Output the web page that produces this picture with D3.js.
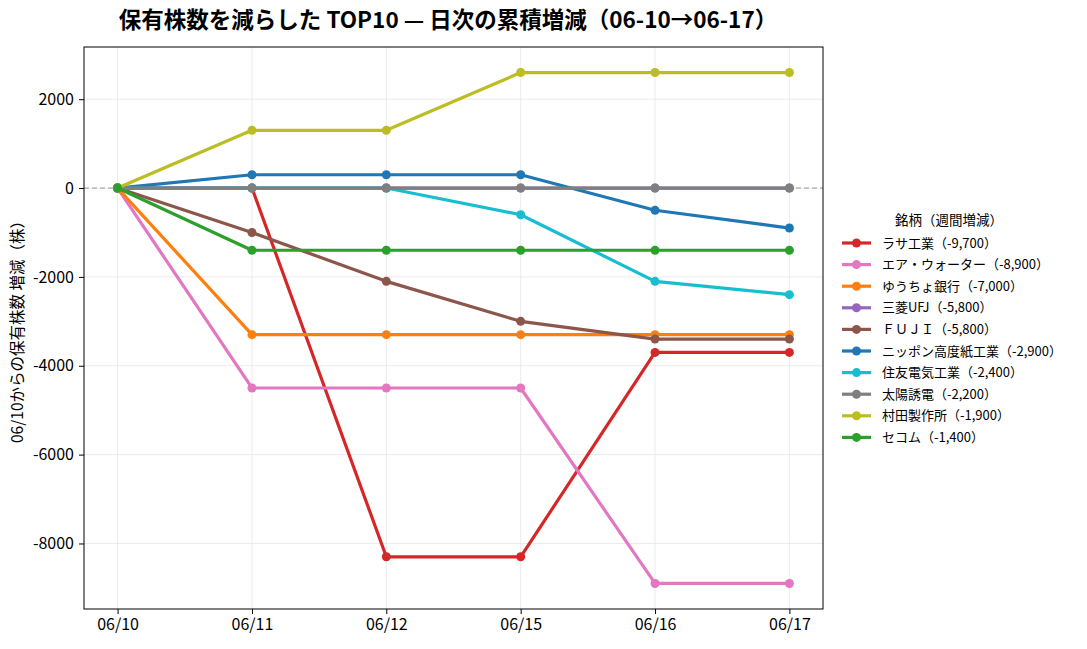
<!DOCTYPE html>
<html>
<head>
<meta charset="utf-8">
<script src="https://cdn.jsdelivr.net/npm/d3@7"></script>
<style>
body { margin: 0; background: #fff; }
svg { font-family: "Noto Sans CJK JP", "Noto Sans", sans-serif; }
</style>
</head>
<body>
<div id="chart"></div>
<script>
var width = 1087;
var height = 649;

// dates on the x axis
var dates = ["06/10", "06/11", "06/12", "06/15", "06/16", "06/17"];

// stock names and weekly change shown in legend
var names = ["ラサ工業", "エア・ウォーター", "ゆうちょ銀行", "三菱UFJ", "ＦＵＪＩ",
             "ニッポン高度紙工業", "住友電気工業", "太陽誘電", "村田製作所", "セコム"];
var weekly = [-9700, -8900, -7000, -5800, -5800, -2900, -2400, -2200, -1900, -1400];
var colors = ["#d62728", "#e377c2", "#ff7f0e", "#9467bd", "#8c564b",
              "#1f77b4", "#17becf", "#7f7f7f", "#bcbd22", "#2ca02c"];

// cumulative change since 06/10
var rasa    = [0, 0, -8300, -8300, -3700, -3700];
var air     = [0, -4500, -4500, -4500, -8900, -8900];
var yucho   = [0, -3300, -3300, -3300, -3300, -3300];
var mufg    = [0, 0, 0, 0, 0, 0];
var fuji    = [0, -1000, -2100, -3000, -3400, -3400];
var nippon  = [0, 300, 300, 300, -500, -900];
var sumi    = [0, 0, 0, -600, -2100, -2400];
var taiyo   = [0, 0, 0, 0, 0, 0];
var murata  = [0, 1300, 1300, 2600, 2600, 2600];
var secom   = [0, -1400, -1400, -1400, -1400, -1400];
var seriesValues = [rasa, air, yucho, mufg, fuji, nippon, sumi, taiyo, murata, secom];

var yTicks = [-8000, -6000, -4000, -2000, 0, 2000];

var margin = {top: 47, right: 264, bottom: 40, left: 84};
var chart_width = width - margin.left - margin.right;
var chart_height = 609 - margin.top;

// plain hyphen minus, thousands separator
function fmt(v) {
    return (v < 0 ? "-" : "") + d3.format(",")(Math.abs(v));
}

var svg = d3.select("#chart").append("svg")
    .attr("width", width)
    .attr("height", height);

svg.append("text")
    .attr("x", 448)
    .attr("y", 28)
    .attr("text-anchor", "middle")
    .style("font-size", "22.5px")
    .style("font-weight", "bold")
    .text("保有株数を減らした TOP10 — 日次の累積増減（06-10→06-17）");

var g = svg.append("g")
    .attr("transform", "translate(" + margin.left + "," + margin.top + ")");

var x_scale = d3.scaleLinear()
    .domain([-0.25, dates.length - 1 + 0.25])
    .range([0, chart_width]);

var allVals = seriesValues.flat();
var ymin = d3.min(allVals), ymax = d3.max(allVals);
var pad = (ymax - ymin) * 0.05;
var y_scale = d3.scaleLinear()
    .domain([ymin - pad, ymax + pad])
    .range([chart_height, 0]);

// grid
g.append("g").selectAll("line")
    .data(dates.map((d, i) => i))
    .enter().append("line")
    .attr("x1", d => x_scale(d)).attr("x2", d => x_scale(d))
    .attr("y1", 0).attr("y2", chart_height)
    .style("stroke", "#e6e6e6").style("stroke-width", 0.8);

g.append("g").selectAll("line")
    .data(yTicks)
    .enter().append("line")
    .attr("x1", 0).attr("x2", chart_width)
    .attr("y1", d => y_scale(d)).attr("y2", d => y_scale(d))
    .style("stroke", "#e6e6e6").style("stroke-width", 0.8);

// zero line
g.append("line")
    .attr("x1", 0).attr("x2", chart_width)
    .attr("y1", y_scale(0)).attr("y2", y_scale(0))
    .style("stroke", "#aaaaaa")
    .style("stroke-width", 1.2)
    .style("stroke-dasharray", "5,3");

// axes
var xAxis = d3.axisBottom(x_scale)
    .tickValues(dates.map((d, i) => i))
    .tickFormat(i => dates[i])
    .tickSize(5).tickPadding(5);
var axis_bottom = g.append("g")
    .attr("transform", "translate(0," + chart_height + ")")
    .call(xAxis);

var yAxis = d3.axisLeft(y_scale)
    .tickValues(yTicks)
    .tickFormat(d => (d < 0 ? "-" : "") + Math.abs(d))
    .tickSize(5).tickPadding(5);
var axis_left = g.append("g").call(yAxis);

[axis_bottom, axis_left].forEach(function(a) {
    a.selectAll("text").style("font-size", "16px").style("fill", "#000")
        .style("font-family", "'Noto Sans CJK JP', sans-serif");
    a.selectAll("line").style("stroke", "#000");
    a.select(".domain").remove();
});

// frame
g.append("rect")
    .attr("width", chart_width).attr("height", chart_height)
    .style("fill", "none").style("stroke", "#000").style("stroke-width", 1);

svg.append("text")
    .attr("transform", "translate(23," + (margin.top + chart_height / 2) + ") rotate(-90)")
    .attr("text-anchor", "middle")
    .style("font-size", "15.5px")
    .text("06/10からの保有株数 増減（株）");

// lines
var line = d3.line()
    .x((d, i) => x_scale(i))
    .y(d => y_scale(d));

seriesValues.forEach(function(vals, k) {
    var s = g.append("g");
    s.append("path")
        .datum(vals)
        .attr("d", line)
        .style("fill", "none")
        .style("stroke", colors[k])
        .style("stroke-width", 3.2)
        .style("stroke-linejoin", "round");
    s.selectAll("circle")
        .data(vals)
        .enter().append("circle")
        .attr("cx", (d, i) => x_scale(i))
        .attr("cy", d => y_scale(d))
        .attr("r", 4.5)
        .style("fill", colors[k]);
});

// legend
var legend = svg.append("g").attr("transform", "translate(840,0)");
legend.append("text")
    .attr("x", 109).attr("y", 225)
    .attr("text-anchor", "middle")
    .style("font-size", "13.5px")
    .text("銘柄（週間増減）");

names.forEach(function(n, k) {
    var yy = 243 + k * 21.6;
    legend.append("line")
        .attr("x1", 2).attr("x2", 31)
        .attr("y1", yy).attr("y2", yy)
        .style("stroke", colors[k]).style("stroke-width", 3.2);
    legend.append("circle")
        .attr("cx", 16.5).attr("cy", yy).attr("r", 4.5)
        .style("fill", colors[k]);
    legend.append("text")
        .attr("x", 42).attr("y", yy + 4.5)
        .style("font-size", "13px")
        .text(n + "（" + fmt(weekly[k]) + "）");
});
</script>
</body>
</html>
